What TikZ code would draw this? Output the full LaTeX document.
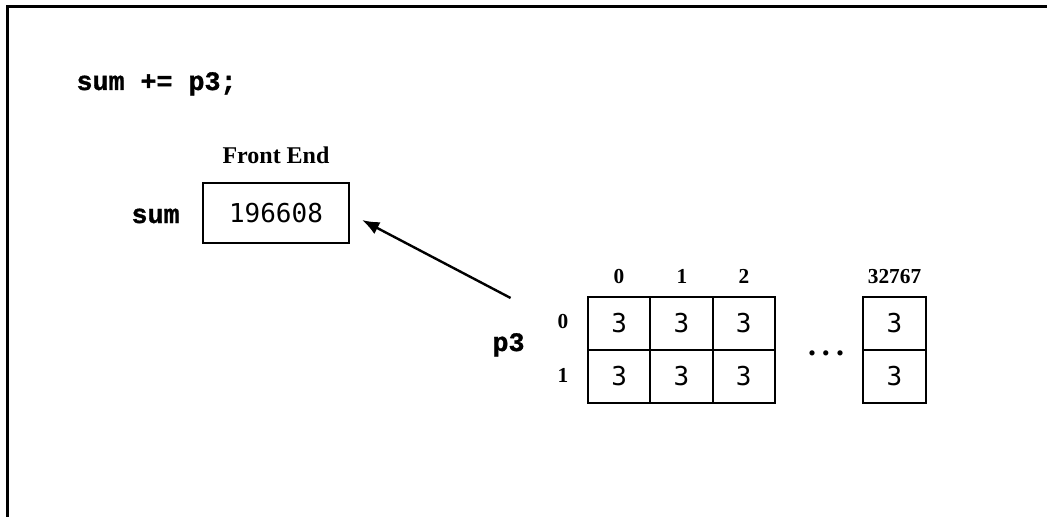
\documentclass[tikz,border=0pt]{standalone}
\usepackage{fontspec}
\setmainfont{Liberation Serif}
\newfontfamily\codefont{Liberation Mono}[BoldFeatures={FakeBold=1.2}]
\newfontfamily\cellfont{DejaVu Sans Mono}
\usetikzlibrary{arrows.meta}

\begin{document}
\begin{tikzpicture}[x=0.75pt, y=-0.75pt, thick,
  code/.style={font=\codefont\bfseries\fontsize{20}{24}\selectfont, inner sep=0pt},
  value/.style={draw, line width=1.5pt, inner sep=0pt, font=\cellfont\fontsize{19.5}{24}\selectfont},
  cell/.style={value, minimum width=46.75pt, minimum height=39.75pt},
  index/.style={font=\bfseries\fontsize{16}{18}\selectfont, inner sep=0pt, anchor=base}]

  \path [use as bounding box, clip] (0, 0) rectangle (1047, 517);

  % Frame
  \draw [line width=2.25pt] (7, 540) -- (7, 7) -- (1070, 7);

  % Statement
  \node [code, anchor=base west] (stmt) at (76, 90) {sum += p3;};

  % Front end variable
  \node [font=\bfseries\fontsize{18}{20}\selectfont, anchor=base, inner sep=0pt] (fe) at (276, 164) {Front End};
  \node [value, minimum width=109.5pt, minimum height=45pt] (sum) at (276, 213) {196608};
  \node [code, anchor=base west] (sumlbl) at (131, 223) {sum};

  % Parallel variable p3
  \node [code, anchor=base west] (p3) at (492, 351) {p3};

  % Column indices
  \node [index] (col0) at (619, 283) {0};
  \node [index] (col1) at (682, 283) {1};
  \node [index] (col2) at (744, 283) {2};
  \node [index] (colN) at (894.5, 283) {32767};

  % Row indices
  \node [index] (row0) at (563, 328) {0};
  \node [index] (row1) at (563, 382) {1};

  % Elements of p3
  \node [cell] (c00) at (619.2, 323.5) {3};
  \node [cell] (c01) at (681.5, 323.5) {3};
  \node [cell] (c02) at (743.8, 323.5) {3};
  \node [cell] (c0N) at (894.5, 323.5) {3};
  \node [cell] (c10) at (619.2, 376.5) {3};
  \node [cell] (c11) at (681.5, 376.5) {3};
  \node [cell] (c12) at (743.8, 376.5) {3};
  \node [cell] (c1N) at (894.5, 376.5) {3};

  % Elided columns
  \node [font=\bfseries\fontsize{24}{26}\selectfont, anchor=base, inner sep=0pt] (dots) at (826, 355) {.\kern4.5pt.\kern4.5pt.};

  % Reduction into the front end
  \draw [-{Latex[length=13pt, width=10pt]}, line width=1.8pt]
    ([xshift=1.5pt, yshift=26pt]p3.north) -- ([xshift=9pt, yshift=-5.25pt]sum.east);
\end{tikzpicture}
\end{document}
